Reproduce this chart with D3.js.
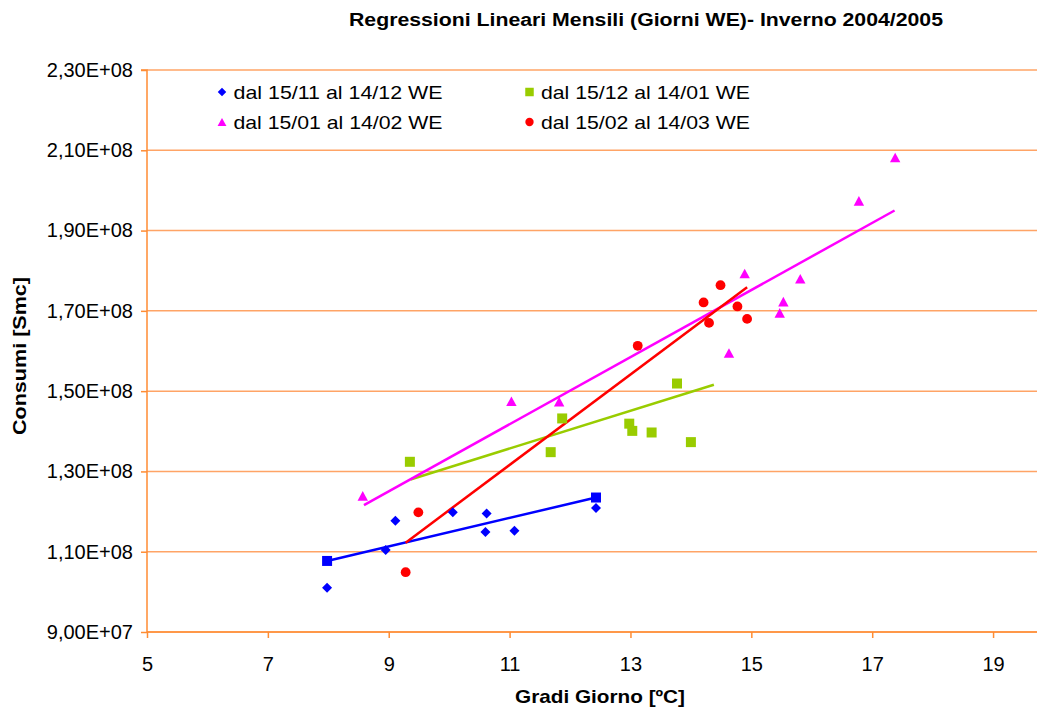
<!DOCTYPE html>
<html><head><meta charset="utf-8">
<script src="https://cdn.jsdelivr.net/npm/d3@7"></script>
<style>body{margin:0;background:#fff}svg{display:block}</style>
</head><body><svg id="c" width="1037" height="715"></svg>
<script>
const title = "Regressioni Lineari Mensili (Giorni WE)- Inverno 2004/2005";
const xLabel = "Gradi Giorno [ºC]";
const yLabel = "Consumi [Smc]";
const xTicks = [5, 7, 9, 11, 13, 15, 17, 19];
const yTicks = [9.0e7, 1.1e8, 1.3e8, 1.5e8, 1.7e8, 1.9e8, 2.1e8, 2.3e8];
const yTickLabels = ["9,00E+07","1,10E+08","1,30E+08","1,50E+08","1,70E+08","1,90E+08","2,10E+08","2,30E+08"];
const seriesNames = ["dal 15/11 al 14/12 WE","dal 15/12 al 14/01 WE","dal 15/01 al 14/02 WE","dal 15/02 al 14/03 WE"];
const seriesColors = ["#0000FF","#99CC00","#FF00FF","#FF0000"];
const seriesShapes = ["diamond","square","triangle","circle"];

const novX = [7.98, 9.11, 8.95, 10.06, 10.62, 10.60, 11.08, 12.43];
const novY = [1.010e8, 1.177e8, 1.104e8, 1.198e8, 1.195e8, 1.149e8, 1.152e8, 1.209e8];
const decX = [9.35, 11.87, 11.68, 12.98, 13.03, 13.35, 14.00, 13.77];
const decY = [1.324e8, 1.432e8, 1.348e8, 1.419e8, 1.401e8, 1.397e8, 1.373e8, 1.519e8];
const janX = [8.57, 11.03, 11.82, 14.63, 14.89, 15.47, 15.53, 15.81, 16.78, 17.38];
const janY = [1.239e8, 1.475e8, 1.474e8, 1.595e8, 1.793e8, 1.695e8, 1.723e8, 1.780e8, 1.974e8, 2.082e8];
const febX = [9.49, 9.28, 13.12, 14.21, 14.49, 14.30, 14.77, 14.93];
const febY = [1.198e8, 1.049e8, 1.613e8, 1.721e8, 1.764e8, 1.670e8, 1.711e8, 1.680e8];

// trend lines: [x start, x end], [y start, y end]
const novTrendX = [7.98, 12.43], novTrendY = [1.077e8, 1.235e8];
const decTrendX = [9.36, 14.38], decTrendY = [1.280e8, 1.516e8];
const janTrendX = [8.59, 17.37], janTrendY = [1.216e8, 1.950e8];
const febTrendX = [9.28, 14.93], febTrendY = [1.1225e8, 1.759e8];

const seriesX = [novX, decX, janX, febX];
const seriesY = [novY, decY, janY, febY];
const trendX = [novTrendX, decTrendX, janTrendX, febTrendX];
const trendY = [novTrendY, decTrendY, janTrendY, febTrendY];

const svg = d3.select("#c");
const x = d3.scaleLinear().domain([5, 20]).range([147, 1053.5]);
const y = d3.scaleLinear().domain([9.0e7, 2.3e8]).range([632, 70]);
const gridColor = "#FFA466", axisColor = "#FF8C33";
const font = "'Liberation Sans', Arial, sans-serif";

// gridlines
svg.append("g").selectAll("line").data(yTicks).join("line")
  .attr("x1", 147).attr("x2", 1037).attr("y1", d => y(d)).attr("y2", d => y(d))
  .attr("stroke", gridColor).attr("stroke-width", 1.5);

// y axis
const yAxis = d3.axisLeft(y).tickValues(yTicks).tickSize(6).tickPadding(8)
  .tickFormat((d, i) => yTickLabels[i]);
const gy = svg.append("g").attr("transform", "translate(147,0)").call(yAxis);
gy.select(".domain").attr("stroke", axisColor).attr("stroke-width", 1.5).attr("d", `M-6,${y(2.3e8)}H0V${y(9e7)}`);
gy.selectAll(".tick line").attr("stroke", axisColor).attr("stroke-width", 1.5);
gy.selectAll(".tick text").attr("font-family", font).attr("font-size", 20).attr("fill", "#000");

// x axis
const xAxis = d3.axisBottom(x).tickValues(xTicks).tickSize(6).tickPadding(19).tickFormat(d3.format("d"));
const gx = svg.append("g").attr("transform", "translate(0,632)").call(xAxis);
gx.select(".domain").attr("stroke", axisColor).attr("stroke-width", 1.5).attr("d", "M147,0H1037");
gx.selectAll(".tick line").attr("stroke", axisColor).attr("stroke-width", 1.5);
gx.selectAll(".tick text").attr("font-family", font).attr("font-size", 20).attr("fill", "#000");

// symbols (Excel-like marker shapes)
function sym(shape, s) {
  s = s || 1;
  if (shape === "diamond") { const r = 5 * s; return `M0,${-r}L${r},0L0,${r}L${-r},0Z`; }
  if (shape === "square") { const r = 5 * s; return `M${-r},${-r}H${r}V${r}H${-r}Z`; }
  if (shape === "triangle") { const w = 5.2 * s, h = 4.8 * s; return `M0,${-h}L${w},${h}L${-w},${h}Z`; }
  const r = 4.9 * s; return d3.symbol().type(d3.symbolCircle).size(Math.PI * r * r)();
}

// trend lines
const line = d3.line().x(d => x(d[0])).y(d => y(d[1]));
seriesNames.forEach((n, i) => {
  const pts = trendX[i].map((v, j) => [v, trendY[i][j]]);
  svg.append("path").attr("d", line(pts)).attr("fill", "none")
    .attr("stroke", seriesColors[i]).attr("stroke-width", 2.5);
});
// blue trend line end markers
svg.append("g").selectAll("path").data(novTrendX.map((v, j) => [v, novTrendY[j]])).join("path")
  .attr("d", sym("square")).attr("fill", seriesColors[0])
  .attr("transform", d => `translate(${x(d[0])},${y(d[1])})`);

// points
seriesNames.forEach((n, i) => {
  const pts = seriesX[i].map((v, j) => [v, seriesY[i][j]]);
  svg.append("g").selectAll("path").data(pts).join("path")
    .attr("d", sym(seriesShapes[i])).attr("fill", seriesColors[i])
    .attr("transform", d => `translate(${x(d[0])},${y(d[1])})`);
});

// legend
const legPos = [[222, 92], [529.5, 92], [222, 122], [529.5, 122]];
seriesNames.forEach((n, i) => {
  const g = svg.append("g").attr("transform", `translate(${legPos[i][0]},${legPos[i][1]})`);
  g.append("path").attr("d", sym(seriesShapes[i], 0.85)).attr("fill", seriesColors[i]);
  g.append("text").attr("x", 11.5).attr("y", 6.5).attr("font-family", font).attr("font-size", 19)
    .attr("textLength", 209).attr("lengthAdjust", "spacingAndGlyphs").text(n);
});

// title and axis labels
svg.append("text").attr("x", 646).attr("y", 25.5).attr("text-anchor", "middle")
  .attr("font-family", font).attr("font-weight", "bold").attr("font-size", 18)
  .attr("textLength", 594).attr("lengthAdjust", "spacingAndGlyphs").text(title);
svg.append("text").attr("x", 600).attr("y", 703).attr("text-anchor", "middle")
  .attr("font-family", font).attr("font-weight", "bold").attr("font-size", 19)
  .attr("textLength", 170).attr("lengthAdjust", "spacingAndGlyphs").text(xLabel);
svg.append("text").attr("transform", "translate(25.5,356) rotate(-90)").attr("text-anchor", "middle")
  .attr("font-family", font).attr("font-weight", "bold").attr("font-size", 19)
  .attr("textLength", 158).attr("lengthAdjust", "spacingAndGlyphs").text(yLabel);
</script></body></html>
